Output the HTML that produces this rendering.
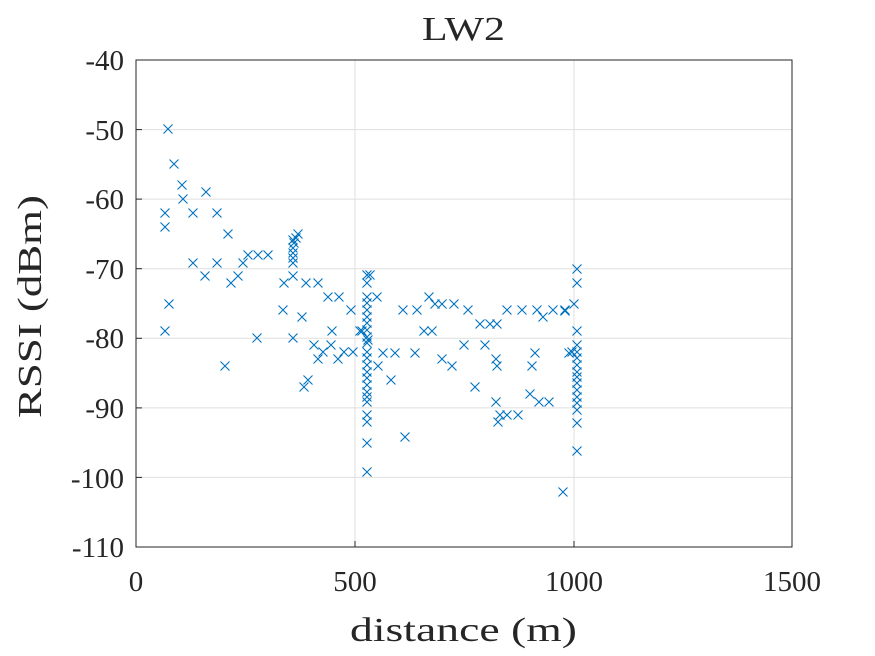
<!DOCTYPE html>
<html><head><style>body{margin:0;background:#fff}svg{display:block}text{font-family:"Liberation Serif",serif;fill:#262626}</style></head><body>
<svg width="875" height="656" viewBox="0 0 875 656" xmlns="http://www.w3.org/2000/svg" xmlns:xlink="http://www.w3.org/1999/xlink">
<defs><path id="m" d="M-4.5 -4.5L4.5 4.5M-4.5 4.5L4.5 -4.5" stroke="#0072BD" stroke-width="1.1" fill="none"/></defs>
<rect width="875" height="656" fill="#fff"/>
<g stroke="#dfdfdf" stroke-width="1">
<line x1="355" y1="60" x2="355" y2="547"/><line x1="574" y1="60" x2="574" y2="547"/>
<line x1="136" y1="129.6" x2="792" y2="129.6"/><line x1="136" y1="199.1" x2="792" y2="199.1"/>
<line x1="136" y1="268.7" x2="792" y2="268.7"/><line x1="136" y1="338.3" x2="792" y2="338.3"/>
<line x1="136" y1="407.9" x2="792" y2="407.9"/><line x1="136" y1="477.4" x2="792" y2="477.4"/>
</g>
<rect x="136" y="60" width="656" height="487" fill="none" stroke="#262626" stroke-width="1"/>
<g stroke="#262626" stroke-width="1">
<line x1="136" y1="129.6" x2="142" y2="129.6"/><line x1="136" y1="199.1" x2="142" y2="199.1"/><line x1="136" y1="268.7" x2="142" y2="268.7"/><line x1="136" y1="338.3" x2="142" y2="338.3"/><line x1="136" y1="407.9" x2="142" y2="407.9"/><line x1="136" y1="477.4" x2="142" y2="477.4"/>
<line x1="355" y1="547" x2="355" y2="541"/><line x1="574" y1="547" x2="574" y2="541"/>
</g>
<g font-size="29" text-anchor="end">
<text x="124" y="70">-40</text><text x="124" y="140">-50</text><text x="124" y="209">-60</text><text x="124" y="279">-70</text><text x="124" y="348">-80</text><text x="124" y="418">-90</text><text x="124" y="488">-100</text><text x="124" y="557">-110</text>
</g>
<g font-size="29" text-anchor="middle">
<text x="136" y="591">0</text><text x="355" y="591">500</text><text x="574" y="591">1000</text><text x="792" y="591">1500</text>
</g>
<text x="350" y="641" font-size="34" textLength="227" lengthAdjust="spacingAndGlyphs">distance (m)</text>
<text x="422" y="40" font-size="34" textLength="83" lengthAdjust="spacingAndGlyphs">LW2</text>
<text transform="translate(41,418) rotate(-90)" font-size="34" textLength="223" lengthAdjust="spacingAndGlyphs">RSSI (dBm)</text>
<g>
<use xlink:href="#m" x="168" y="129"/><use xlink:href="#m" x="174" y="164"/><use xlink:href="#m" x="182" y="185"/><use xlink:href="#m" x="183" y="199"/><use xlink:href="#m" x="206" y="192"/><use xlink:href="#m" x="165" y="213"/><use xlink:href="#m" x="193" y="213"/><use xlink:href="#m" x="217" y="213"/><use xlink:href="#m" x="165" y="227"/><use xlink:href="#m" x="228" y="234"/><use xlink:href="#m" x="193" y="263"/><use xlink:href="#m" x="217" y="263"/><use xlink:href="#m" x="243" y="263"/><use xlink:href="#m" x="248" y="255"/><use xlink:href="#m" x="258" y="255"/><use xlink:href="#m" x="268" y="255"/><use xlink:href="#m" x="205" y="276"/><use xlink:href="#m" x="238" y="276"/><use xlink:href="#m" x="231" y="283"/><use xlink:href="#m" x="169" y="304"/><use xlink:href="#m" x="165" y="331"/><use xlink:href="#m" x="257" y="338"/><use xlink:href="#m" x="225" y="366"/><use xlink:href="#m" x="283" y="310"/><use xlink:href="#m" x="302" y="317"/><use xlink:href="#m" x="284" y="283"/><use xlink:href="#m" x="293" y="276"/><use xlink:href="#m" x="306" y="283"/><use xlink:href="#m" x="318" y="283"/><use xlink:href="#m" x="328" y="297"/><use xlink:href="#m" x="339" y="297"/><use xlink:href="#m" x="351" y="310"/><use xlink:href="#m" x="332" y="331"/><use xlink:href="#m" x="314" y="345"/><use xlink:href="#m" x="331" y="345"/><use xlink:href="#m" x="323" y="352"/><use xlink:href="#m" x="318" y="359"/><use xlink:href="#m" x="338" y="359"/><use xlink:href="#m" x="344" y="352"/><use xlink:href="#m" x="353" y="352"/><use xlink:href="#m" x="308" y="380"/><use xlink:href="#m" x="304" y="387"/><use xlink:href="#m" x="360" y="331"/><use xlink:href="#m" x="293" y="338"/>
<use xlink:href="#m" x="298" y="234"/><use xlink:href="#m" x="293" y="240"/><use xlink:href="#m" x="294" y="243"/><use xlink:href="#m" x="293" y="248"/><use xlink:href="#m" x="293" y="253"/><use xlink:href="#m" x="293" y="258"/><use xlink:href="#m" x="293" y="263"/><use xlink:href="#m" x="296" y="238"/>
<use xlink:href="#m" x="367" y="275"/><use xlink:href="#m" x="367" y="283"/><use xlink:href="#m" x="367" y="297"/><use xlink:href="#m" x="367" y="303"/><use xlink:href="#m" x="367" y="310"/><use xlink:href="#m" x="367" y="317"/><use xlink:href="#m" x="367" y="323"/><use xlink:href="#m" x="367" y="330"/><use xlink:href="#m" x="367" y="337"/><use xlink:href="#m" x="367" y="343"/><use xlink:href="#m" x="367" y="352"/><use xlink:href="#m" x="367" y="358"/><use xlink:href="#m" x="367" y="365"/><use xlink:href="#m" x="367" y="372"/><use xlink:href="#m" x="367" y="378"/><use xlink:href="#m" x="367" y="385"/><use xlink:href="#m" x="367" y="392"/><use xlink:href="#m" x="367" y="397"/><use xlink:href="#m" x="367" y="402"/><use xlink:href="#m" x="367" y="415"/><use xlink:href="#m" x="367" y="422"/><use xlink:href="#m" x="367" y="443"/><use xlink:href="#m" x="367" y="472"/><use xlink:href="#m" x="370" y="275"/><use xlink:href="#m" x="377" y="297"/><use xlink:href="#m" x="362" y="331"/><use xlink:href="#m" x="368" y="340"/>
<use xlink:href="#m" x="383" y="353"/><use xlink:href="#m" x="395" y="353"/><use xlink:href="#m" x="378" y="366"/><use xlink:href="#m" x="391" y="380"/><use xlink:href="#m" x="403" y="310"/><use xlink:href="#m" x="417" y="310"/><use xlink:href="#m" x="415" y="353"/><use xlink:href="#m" x="405" y="437"/><use xlink:href="#m" x="429" y="297"/><use xlink:href="#m" x="435" y="304"/><use xlink:href="#m" x="442" y="304"/><use xlink:href="#m" x="454" y="304"/><use xlink:href="#m" x="468" y="310"/><use xlink:href="#m" x="424" y="331"/><use xlink:href="#m" x="432" y="331"/><use xlink:href="#m" x="442" y="359"/><use xlink:href="#m" x="452" y="366"/><use xlink:href="#m" x="464" y="345"/><use xlink:href="#m" x="475" y="387"/><use xlink:href="#m" x="480" y="324"/><use xlink:href="#m" x="490" y="324"/><use xlink:href="#m" x="497" y="324"/><use xlink:href="#m" x="485" y="345"/><use xlink:href="#m" x="496" y="359"/><use xlink:href="#m" x="497" y="366"/><use xlink:href="#m" x="496" y="402"/><use xlink:href="#m" x="500" y="415"/><use xlink:href="#m" x="507" y="415"/><use xlink:href="#m" x="518" y="415"/><use xlink:href="#m" x="498" y="422"/><use xlink:href="#m" x="507" y="310"/><use xlink:href="#m" x="522" y="310"/><use xlink:href="#m" x="537" y="310"/><use xlink:href="#m" x="543" y="317"/><use xlink:href="#m" x="553" y="310"/><use xlink:href="#m" x="565" y="310"/><use xlink:href="#m" x="535" y="353"/><use xlink:href="#m" x="532" y="366"/><use xlink:href="#m" x="530" y="394"/><use xlink:href="#m" x="539" y="402"/><use xlink:href="#m" x="549" y="402"/><use xlink:href="#m" x="569" y="353"/>
<use xlink:href="#m" x="577" y="269"/><use xlink:href="#m" x="577" y="283"/><use xlink:href="#m" x="574" y="304"/><use xlink:href="#m" x="565" y="311"/><use xlink:href="#m" x="577" y="331"/><use xlink:href="#m" x="577" y="345"/><use xlink:href="#m" x="572" y="352"/><use xlink:href="#m" x="577" y="352"/><use xlink:href="#m" x="577" y="358"/><use xlink:href="#m" x="577" y="365"/><use xlink:href="#m" x="577" y="372"/><use xlink:href="#m" x="577" y="377"/><use xlink:href="#m" x="577" y="383"/><use xlink:href="#m" x="577" y="390"/><use xlink:href="#m" x="577" y="397"/><use xlink:href="#m" x="577" y="403"/><use xlink:href="#m" x="577" y="410"/><use xlink:href="#m" x="577" y="423"/><use xlink:href="#m" x="577" y="451"/><use xlink:href="#m" x="563" y="492"/>
</g>
</svg>
</body></html>
